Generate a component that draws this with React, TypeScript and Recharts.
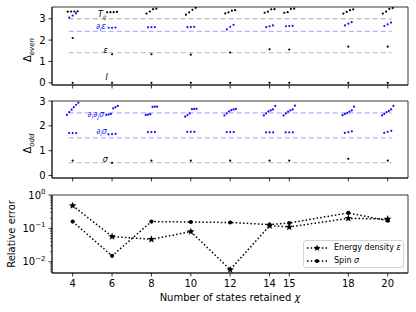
import React from 'react';
import {
  ScatterChart, Scatter, ComposedChart, Line, XAxis, YAxis,
  ReferenceLine, ReferenceArea, ReferenceDot, Legend, Label,
} from 'recharts';

const FONT = 'DejaVu Sans, sans-serif';

// ---------- data ----------
const chiValues = [4, 6, 8, 10, 12, 14, 15, 18, 20];

// even sector (Delta_even)
const identityValues = [0, 0, 0, 0, 0, 0, 0, 0, 0];
const epsilonValues = [2.1, 1.34, 1.34, 1.32, 1.42, 1.57, 1.56, 1.7, 1.7];
const dEpsilonValues = [
  [3.05, 3.15, 3.25],
  [2.58, 2.58, 2.59],
  [2.6, 2.61, 2.61],
  [2.61, 2.61, 2.62],
  [2.5, 2.62, 2.72],
  [2.61, 2.65, 2.69],
  [2.65, 2.66, 2.67],
  [2.69, 2.77, 2.84],
  [2.66, 2.74, 2.82],
];
const stressValues = [
  [3.33, 3.34, 3.34, 3.35],
  [3.3, 3.31, 3.31, 3.32],
  [3.24, 3.34, 3.45, 3.47],
  [3.19, 3.3, 3.42, 3.51],
  [3.25, 3.3, 3.38, 3.4],
  [3.28, 3.33, 3.44, 3.45],
  [3.28, 3.31, 3.46, 3.47],
  [3.24, 3.32, 3.4, 3.44],
  [3.24, 3.33, 3.46, 3.5],
];

// odd sector (Delta_odd)
const sigmaValues = [0.6, 0.51, 0.6, 0.6, 0.6, 0.6, 0.6, 0.67, 0.6];
const dSigmaValues = [
  [1.71, 1.71, 1.71],
  [1.66, 1.67, 1.68],
  [1.75, 1.75, 1.75],
  [1.76, 1.76, 1.76],
  [1.75, 1.75, 1.75],
  [1.74, 1.74, 1.74],
  [1.74, 1.74, 1.74],
  [1.72, 1.75, 1.78],
  [1.72, 1.76, 1.8],
];
const ddSigmaValues = [
  [2.44, 2.55, 2.65, 2.75, 2.85, 2.93],
  [2.44, 2.46, 2.48, 2.7, 2.75, 2.8],
  [2.44, 2.45, 2.47, 2.76, 2.77, 2.77],
  [2.37, 2.43, 2.5, 2.67, 2.68, 2.68],
  [2.42, 2.5, 2.58, 2.63, 2.66, 2.68],
  [2.42, 2.5, 2.58, 2.62, 2.66, 2.8],
  [2.42, 2.5, 2.57, 2.62, 2.66, 2.81],
  [2.43, 2.48, 2.52, 2.57, 2.62, 2.77],
  [2.42, 2.48, 2.55, 2.6, 2.66, 2.8],
];

// exact scaling dimensions (reference lines)
const evenExact = [
  { name: 'epsilon', value: 1.412, kind: 'gray' },
  { name: 'dEpsilon', value: 2.412, kind: 'blue' },
  { name: 'T', value: 3.0, kind: 'gray' },
];
const oddExact = [
  { name: 'sigma', value: 0.518, kind: 'gray' },
  { name: 'dSigma', value: 1.518, kind: 'blue' },
  { name: 'ddSigma', value: 2.518, kind: 'blue' },
];

// relative errors
const energyError = [0.48, 0.057, 0.047, 0.08, 0.0058, 0.12, 0.11, 0.2, 0.19];
const spinError = [0.16, 0.015, 0.16, 0.155, 0.15, 0.13, 0.145, 0.29, 0.17];

const xTicks = [4, 6, 8, 10, 12, 14, 15, 18, 20];
const evenTicks = [0, 1, 2, 3];
const oddTicks = [0, 1, 2, 3];
const logTicks = [
  0.005, 0.006, 0.007, 0.008, 0.009, 0.01,
  0.02, 0.03, 0.04, 0.05, 0.06, 0.07, 0.08, 0.09, 0.1,
  0.2, 0.3, 0.4, 0.5, 0.6, 0.7, 0.8, 0.9, 1,
];

// ---------- helpers ----------
const X_DOMAIN: [number, number] = [2.95, 21.03];
const LINE_X: [number, number] = [3.8, 20.2];
const BLUE = '#1010ff';
const GRAY_LINE = '#c4c4c4';
const BLUE_LINE = '#b4b4ff';

function cluster(values: number[][], spread: number) {
  const pts: { x: number; y: number }[] = [];
  values.forEach((vals, i) => {
    const n = vals.length;
    vals.forEach((v, j) => {
      const off = n === 1 ? 0 : -spread / 2 + (spread * j) / (n - 1);
      pts.push({ x: chiValues[i] + off, y: v });
    });
  });
  return pts;
}
const single = (vals: number[]) => vals.map((v, i) => ({ x: chiValues[i], y: v }));

const dotShape = (fill: string) => (p: any) => {
  if (p.cx == null || p.cy == null) return <g />;
  return <circle cx={p.cx} cy={p.cy} r={1.1} fill={fill} />;
};

const tickStyle = { fontSize: 10, fill: '#000', fontFamily: FONT };

const RotLabel = (text: React.ReactNode, cxOff: number, cyShift: number) => (props: any) => {
  const vb = props.viewBox || {};
  const cx = (vb.x || 0) + cxOff;
  const cy = (vb.y || 0) + (vb.height || 0) / 2 + cyShift;
  return (
    <text x={cx} y={cy} transform={`rotate(-90 ${cx} ${cy})`} textAnchor="middle"
      fontSize={10} fontFamily={FONT} fill="#000">{text}</text>
  );
};

const txt = (content: React.ReactNode, color: string) => (p: any) => (
  <text x={p.cx} y={p.cy} textAnchor="end" fontSize={8} fontFamily={FONT} fill={color}>{content}</text>
);

const SUB = 5.5;

const Star = ({ cx, cy, r }: { cx: number; cy: number; r: number }) => {
  const pts: string[] = [];
  for (let k = 0; k < 10; k++) {
    const rad = k % 2 === 0 ? r : r * 0.42;
    const a = -Math.PI / 2 + (k * Math.PI) / 5;
    pts.push(`${cx + rad * Math.cos(a)},${cy + rad * Math.sin(a)}`);
  }
  return <polygon points={pts.join(' ')} fill="#000" />;
};

const LogTick = (props: any) => {
  const { x, y, payload } = props;
  const v = payload.value;
  const lg = Math.log10(v);
  const exp = Math.round(lg);
  const major = Math.abs(lg - exp) < 1e-6;
  const axisX = x + 3.5 + 3;
  return (
    <g>
      <line x1={axisX} x2={axisX - (major ? 3.5 : 2)} y1={y} y2={y} stroke="#000" strokeWidth={major ? 0.8 : 0.6} />
      {major && (
        <text x={x} y={y} dy={3.6} textAnchor="end" fontSize={10} fontFamily={FONT} fill="#000">
          10<tspan dy={-4.5} fontSize={7}>{exp === 0 ? '0' : '\u2212' + String(-exp)}</tspan>
        </text>
      )}
    </g>
  );
};

const errorRows = chiValues.map((c, i) => ({ chi: c, energy: energyError[i], spin: spinError[i] }));

const LegendBox = () => (
  <div style={{
    border: '1px solid #d4d4d4', borderRadius: 3, background: '#fff', boxSizing: 'border-box',
    width: 101, height: 28, padding: '0 0 0 2px', fontFamily: FONT, fontSize: 8, color: '#000',
  }}>
    {[{ label: 'Energy density ', sym: 'ε', star: true }, { label: 'Spin ', sym: 'σ', star: false }].map((it) => (
      <div key={it.label} style={{ display: 'flex', alignItems: 'center', height: 13, marginTop: 0 }}>
        <svg width={24} height={10} style={{ display: 'block' }}>
          <line x1={1} x2={21} y1={5} y2={5} stroke="#000" strokeWidth={1.5} strokeDasharray="1.5 2.2" />
          {it.star ? <Star cx={11} cy={5} r={3.6} /> : <circle cx={11} cy={5} r={2} fill="#000" />}
        </svg>
        <span style={{ marginLeft: 4, whiteSpace: 'nowrap' }}>{it.label}<i>{it.sym}</i></span>
      </div>
    ))}
  </div>
);

export default function App() {
  const frame = (y1: number, y2: number) => (
    <ReferenceArea x1={X_DOMAIN[0]} x2={X_DOMAIN[1]} y1={y1} y2={y2} fill="none" fillOpacity={0}
      stroke="#000" strokeWidth={0.8} ifOverflow="visible" />
  );
  const refLine = (v: number, kind: string, key: string) => (
    <ReferenceLine key={key} segment={[{ x: LINE_X[0], y: v }, { x: LINE_X[1], y: v }]}
      stroke={kind === 'blue' ? BLUE_LINE : GRAY_LINE} strokeWidth={1.3} strokeDasharray="5 3" />
  );
  return (
    <div style={{ position: 'absolute', left: 0, top: 0, width: 416, height: 312, background: '#fff' }}>
      {/* Even sector */}
      <div style={{ position: 'absolute', left: 0, top: 0 }}>
        <ScatterChart width={416} height={100} margin={{ top: 7, right: 8, bottom: 0, left: 0 }}>
          <XAxis type="number" dataKey="x" domain={X_DOMAIN} allowDataOverflow ticks={xTicks} interval={0}
            tickFormatter={() => ''} height={15} tickSize={3.5} stroke="#000" strokeWidth={0.8} />
          <YAxis type="number" dataKey="y" domain={[-0.1, 3.55]} allowDataOverflow ticks={evenTicks} interval={0}
            width={52} tickSize={3.5} tickMargin={3} tick={tickStyle} stroke="#000" strokeWidth={0.8}>
            <Label content={RotLabel(<>Δ<tspan fontSize={7} dy={2.5} fontStyle="italic">even</tspan></>, 31, 4)} />
          </YAxis>
          {evenExact.map((e) => refLine(e.value, e.kind, e.name))}
          <Scatter data={single(identityValues)} shape={dotShape('#000')} isAnimationActive={false} />
          <Scatter data={single(epsilonValues)} shape={dotShape('#000')} isAnimationActive={false} />
          <Scatter data={cluster(dEpsilonValues, 0.34)} shape={dotShape(BLUE)} isAnimationActive={false} />
          <Scatter data={cluster(stressValues, 0.5)} shape={dotShape('#000')} isAnimationActive={false} />
          <ReferenceDot x={5.69} y={3.08} shape={txt(<><tspan fontStyle="italic">T</tspan><tspan fontSize={SUB} dy={2} fontStyle="italic">ij</tspan></>, '#000')} />
          <ReferenceDot x={5.69} y={2.53} shape={txt(<>∂<tspan fontSize={SUB} dy={2} fontStyle="italic">i</tspan><tspan dy={-2} fontStyle="italic">ε</tspan></>, BLUE)} />
          <ReferenceDot x={5.79} y={1.38} shape={txt(<tspan fontStyle="italic">ε</tspan>, '#000')} />
          <ReferenceDot x={5.79} y={0.12} shape={txt(<tspan fontStyle="italic">I</tspan>, '#000')} />
          {frame(-0.1, 3.55)}
        </ScatterChart>
      </div>

      {/* Odd sector */}
      <div style={{ position: 'absolute', left: 0, top: 92 }}>
        <ScatterChart width={416} height={108} margin={{ top: 9, right: 8, bottom: 0, left: 0 }}>
          <XAxis type="number" dataKey="x" domain={X_DOMAIN} allowDataOverflow ticks={xTicks} interval={0}
            tickFormatter={() => ''} height={22} tickSize={3.5} stroke="#000" strokeWidth={0.8} />
          <YAxis type="number" dataKey="y" domain={[-0.1, 3]} allowDataOverflow ticks={oddTicks} interval={0}
            width={52} tickSize={3.5} tickMargin={3} tick={tickStyle} stroke="#000" strokeWidth={0.8}>
            <Label content={RotLabel(<>Δ<tspan fontSize={7} dy={2.5} fontStyle="italic">odd</tspan></>, 31, 4)} />
          </YAxis>
          {oddExact.map((e) => refLine(e.value, e.kind, e.name))}
          <Scatter data={single(sigmaValues)} shape={dotShape('#000')} isAnimationActive={false} />
          <Scatter data={cluster(dSigmaValues, 0.36)} shape={dotShape(BLUE)} isAnimationActive={false} />
          <Scatter data={cluster(ddSigmaValues, 0.58)} shape={dotShape(BLUE)} isAnimationActive={false} />
          <ReferenceDot x={5.59} y={2.34} shape={txt(<>∂<tspan fontSize={SUB} dy={2} fontStyle="italic">i</tspan><tspan dy={-2}>∂</tspan><tspan fontSize={SUB} dy={2} fontStyle="italic">j</tspan><tspan dy={-2} fontStyle="italic">σ</tspan></>, BLUE)} />
          <ReferenceDot x={5.74} y={1.68} shape={txt(<>∂<tspan fontSize={SUB} dy={2} fontStyle="italic">i</tspan><tspan dy={-2} fontStyle="italic">σ</tspan></>, BLUE)} />
          <ReferenceDot x={5.79} y={0.53} shape={txt(<tspan fontStyle="italic">σ</tspan>, '#000')} />
          {frame(-0.1, 3)}
        </ScatterChart>
      </div>

      {/* Relative error */}
      <div style={{ position: 'absolute', left: 0, top: 180 }}>
        <ComposedChart width={416} height={132} data={errorRows} margin={{ top: 15, right: 8, bottom: 0, left: 0 }}>
          <XAxis type="number" dataKey="chi" domain={X_DOMAIN} allowDataOverflow ticks={xTicks} interval={0}
            height={39} tickSize={3.5} tickMargin={3} tick={tickStyle} stroke="#000" strokeWidth={0.8}>
            <Label content={(p: any) => {
              const vb = p.viewBox || {};
              return (
                <text x={(vb.x || 0) + (vb.width || 0) / 2} y={(vb.y || 0) + 28} textAnchor="middle"
                  fontSize={10} fontFamily={FONT} fill="#000">
                  Number of states retained <tspan fontStyle="italic">χ</tspan>
                </text>
              );
            }} />
          </XAxis>
          <YAxis type="number" scale="log" domain={[0.0046, 1]} allowDataOverflow ticks={logTicks} interval={0}
            width={52} tickSize={3.5} tickMargin={3} tickLine={false} tick={<LogTick />} stroke="#000" strokeWidth={0.8}>
            <Label content={RotLabel('Relative error', 15, 0)} />
          </YAxis>
          <Line dataKey="energy" stroke="#000" strokeWidth={1.5} strokeDasharray="1.5 2.2"
            isAnimationActive={false} activeDot={false}
            dot={(p: any) => <Star key={'e' + p.index} cx={p.cx} cy={p.cy} r={4} />} />
          <Line dataKey="spin" stroke="#000" strokeWidth={1.5} strokeDasharray="1.5 2.2"
            isAnimationActive={false} activeDot={false}
            dot={(p: any) => <circle key={'s' + p.index} cx={p.cx} cy={p.cy} r={2.1} fill="#000" />} />
          {frame(0.0046, 1)}
          <Legend layout="vertical" align="center" verticalAlign="middle" content={<LegendBox />}
            wrapperStyle={{ position: 'absolute', left: 303, top: 60, width: 101, height: 28 }} />
        </ComposedChart>
      </div>
    </div>
  );
}
